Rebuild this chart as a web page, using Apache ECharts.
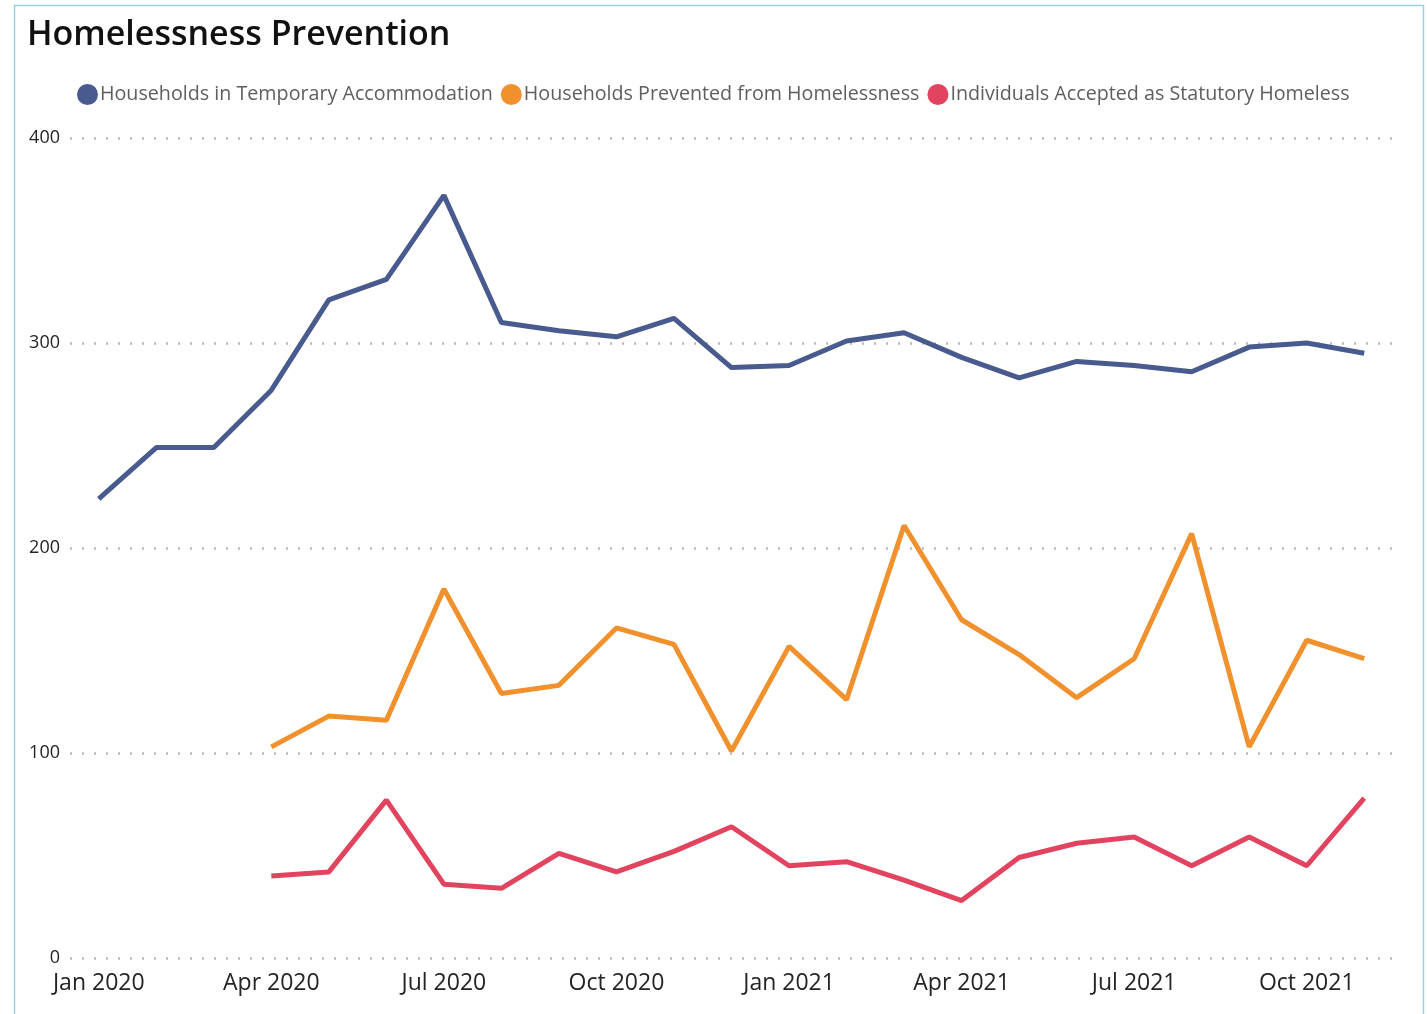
<!DOCTYPE html>
<html>
<head>
<meta charset="utf-8">
<script src="https://cdn.jsdelivr.net/npm/echarts@6/dist/echarts.min.js"></script>
<style>
html,body{margin:0;padding:0;background:#fff;}
#chart{width:1427px;height:1014px;}
</style>
</head>
<body>
<div id="chart"></div>
<script>
const months = ['Jan 2020','Feb 2020','Mar 2020','Apr 2020','May 2020','Jun 2020','Jul 2020','Aug 2020','Sep 2020','Oct 2020','Nov 2020','Dec 2020',
  'Jan 2021','Feb 2021','Mar 2021','Apr 2021','May 2021','Jun 2021','Jul 2021','Aug 2021','Sep 2021','Oct 2021','Nov 2021'];
const temporaryAccommodation = [224,249,249,277,321,331,372,310,306,303,312,288,289,301,305,293,283,291,289,286,298,300,295];
const preventedHomelessness = [null,null,null,103,118,116,180,129,133,161,153,101,152,126,211,165,148,127,146,207,103,155,146];
const statutoryHomeless = [null,null,null,40,42,77,36,34,51,42,52,64,45,47,38,28,49,56,59,45,59,45,78];
const seriesNames = ['Households in Temporary Accommodation','Households Prevented from Homelessness','Individuals Accepted as Statutory Homeless'];
const yTicks = [0,100,200,300,400];

const colors = ['#485A8E','#F1912E','#E2445F'];
const font = '"Open Sans", "Noto Sans", sans-serif';
const chart = echarts.init(document.getElementById('chart'));
chart.setOption({
  animation:false,
  color:colors,
  graphic:[{type:'rect',shape:{x:14.5,y:5.5,width:1409,height:1030},style:{fill:'none',stroke:'#9CCFE6',lineWidth:1.5},silent:true}],
  title:{text:'Homelessness Prevention',left:22,top:13,textStyle:{fontFamily:font,fontSize:34,fontWeight:600,color:'#111'}},
  legend:{top:79,left:72,itemWidth:21,itemHeight:21,itemGap:8,icon:'circle',
    textStyle:{fontFamily:font,fontSize:19.7,color:'#605E5C',padding:[0,0,0,-3]},
    data:seriesNames},
  grid:{left:70,right:34,top:138,bottom:56,containLabel:false},
  xAxis:{type:'category',data:months,boundaryGap:true,
    axisLine:{show:false},axisTick:{show:false},
    axisLabel:{interval:2,margin:14,fontFamily:font,fontSize:23,color:'#252423'}},
  yAxis:{type:'value',min:yTicks[0],max:yTicks[yTicks.length-1],interval:100,
    axisLine:{show:false},axisTick:{show:false},
    axisLabel:{margin:10,fontFamily:font,fontSize:18,color:'#252423'},
    splitLine:{lineStyle:{color:'#BDBBB9',width:2.5,type:[2,10]}}},
  series:[
    {name:seriesNames[0],type:'line',data:temporaryAccommodation,symbol:'none',lineStyle:{width:5}},
    {name:seriesNames[1],type:'line',data:preventedHomelessness,symbol:'none',lineStyle:{width:5}},
    {name:seriesNames[2],type:'line',data:statutoryHomeless,symbol:'none',lineStyle:{width:5}}
  ]
});
</script>
</body>
</html>
